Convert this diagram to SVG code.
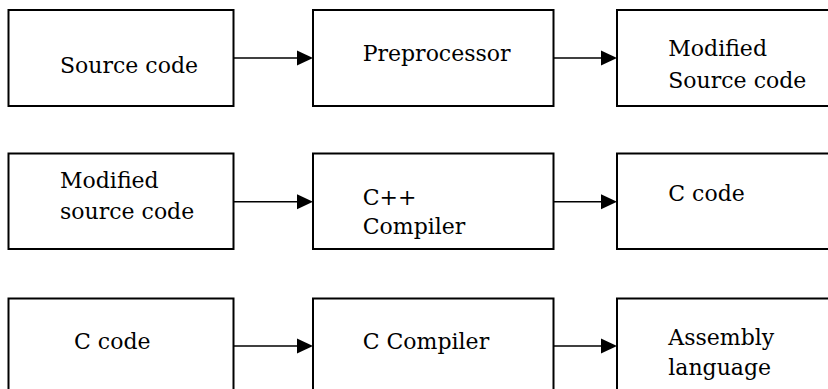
<svg xmlns="http://www.w3.org/2000/svg" width="828" height="389" viewBox="0 0 828 389">
  <style>
    .box { fill: #fff; stroke: #000; stroke-width: 2; }
    .lbl { font-family: 'DejaVu Serif', serif; font-size: 22px; fill: #000; }
    .wire { stroke: #000; stroke-width: 1.6; fill: none; }
    .head { fill: #000; }
  </style>
  <rect width="828" height="389" fill="#fff"/>

  <!-- row 1 -->
  <g id="source-code">
    <rect class="box" x="8.5" y="10" width="225" height="96"/>
    <text class="lbl" x="60" y="73.3">Source code</text>
  </g>
  <g id="preprocessor">
    <rect class="box" x="313" y="10" width="240.5" height="96"/>
    <text class="lbl" x="362.7" y="61">Preprocessor</text>
  </g>
  <g id="modified-source-code">
    <rect class="box" x="617" y="10" width="230" height="96"/>
    <text class="lbl" x="668.3" y="56">Modified</text>
    <text class="lbl" x="668.3" y="87.7">Source code</text>
  </g>

  <!-- row 2 -->
  <g id="modified-source-code-2">
    <rect class="box" x="8.5" y="153.5" width="225" height="95.5"/>
    <text class="lbl" x="60" y="187.7">Modified</text>
    <text class="lbl" x="60" y="219">source code</text>
  </g>
  <g id="cpp-compiler">
    <rect class="box" x="313" y="153.5" width="240.5" height="95.5"/>
    <text class="lbl" x="362.7" y="205">C++</text>
    <text class="lbl" x="362.7" y="234.3">Compiler</text>
  </g>
  <g id="c-code">
    <rect class="box" x="617" y="153.5" width="230" height="95.5"/>
    <text class="lbl" x="668.3" y="201">C code</text>
  </g>

  <!-- row 3 -->
  <g id="c-code-2">
    <rect class="box" x="8.5" y="298.5" width="225" height="110"/>
    <text class="lbl" x="74" y="349">C code</text>
  </g>
  <g id="c-compiler">
    <rect class="box" x="313" y="298.5" width="240.5" height="110"/>
    <text class="lbl" x="362.7" y="349">C Compiler</text>
  </g>
  <g id="assembly-language">
    <rect class="box" x="617" y="298.5" width="230" height="110"/>
    <text class="lbl" x="668.3" y="345">Assembly</text>
    <text class="lbl" x="668.3" y="375">language</text>
  </g>

  <!-- connectors -->
  <g id="connectors">
    <line class="wire" x1="233.5" y1="58" x2="298" y2="58"/>
    <polygon class="head" points="297,50.5 313,58 297,65.5"/>
    <line class="wire" x1="553.5" y1="58" x2="602" y2="58"/>
    <polygon class="head" points="601,50.5 617,58 601,65.5"/>

    <line class="wire" x1="233.5" y1="201.7" x2="298" y2="201.7"/>
    <polygon class="head" points="297,194.2 313,201.7 297,209.2"/>
    <line class="wire" x1="553.5" y1="201.7" x2="602" y2="201.7"/>
    <polygon class="head" points="601,194.2 617,201.7 601,209.2"/>

    <line class="wire" x1="233.5" y1="346" x2="298" y2="346"/>
    <polygon class="head" points="297,338.5 313,346 297,353.5"/>
    <line class="wire" x1="553.5" y1="346" x2="602" y2="346"/>
    <polygon class="head" points="601,338.5 617,346 601,353.5"/>
  </g>
</svg>
